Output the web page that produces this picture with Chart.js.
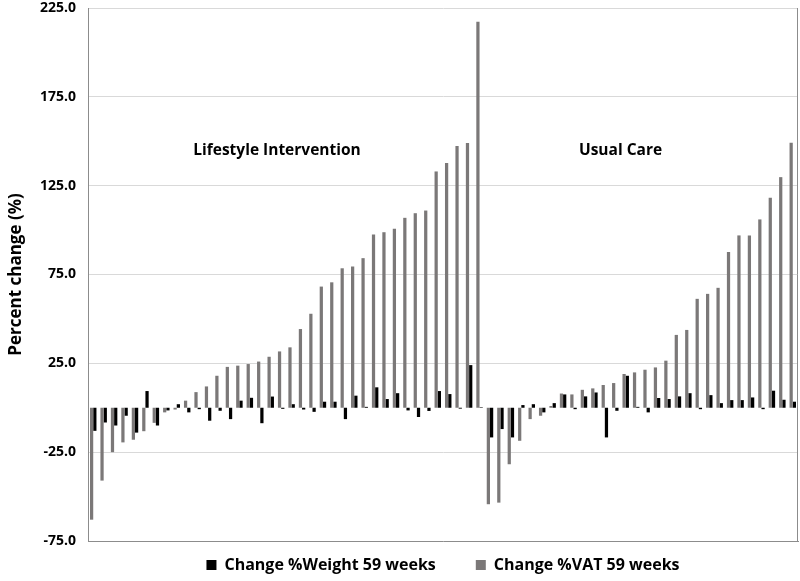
<!DOCTYPE html>
<html>
<head>
<meta charset="utf-8">
<title>Percent change</title>
<script src="https://cdn.jsdelivr.net/npm/chart.js@4.4.1/dist/chart.umd.min.js"></script>
<style>
    html, body { margin: 0; padding: 0; background: #ffffff; }
    #wrap { width: 800px; height: 581px; position: relative; }
</style>
</head>
<body>
<div id="wrap"><canvas id="change-chart"></canvas></div>
<script>
// Participants per group, sorted by VAT change (left: lifestyle, right: usual care)
const lifestyleCount = 38;
const usualCareCount = 30;

// Change %Weight 59 weeks
const weightLifestyle = [
    -13, -8.3, -10, -4.5, -14, 9.4, -10, -1.5, 2, -2.6,
    -0.8, -7.3, -1.7, -6.4, 4, 5.6, -8.7, 6.3, -0.6, 2,
    -1, -2.3, 3.4, 3.4, -6.4, 6.8, 0.5, 11.5, 4.9, 8.2,
    -1.5, -5.2, -1.8, 9.4, 7.7, -0.5, 24, 0.3
];
const weightUsualCare = [
    -16.7, -12, -16.7, 1.5, 2, -2.6, 2.6, 7.5, -0.8, 6.4,
    8.6, -16.7, -1.7, 18, 0.5, -2.6, 5.5, 4.9, 6.4, 8.2,
    -0.8, 7.1, 2.6, 4.3, 4.3, 5.8, -0.8, 9.6, 4.5, 3.4
];

// Change %VAT 59 weeks
const vatLifestyle = [
    -63, -41, -25, -19.5, -18, -13.2, -8.5, -2.6, -1, 4,
    8.8, 12, 18, 23, 23.7, 24.6, 26, 28.7, 31.7, 34,
    44.3, 52.9, 68.2, 70.6, 78.5, 79.5, 84.2, 97.5, 98.8, 100.7,
    106.9, 109.5, 111, 133, 137.7, 147.3, 149, 217.2
];
const vatUsualCare = [
    -54.3, -53.4, -31.8, -18.6, -6.4, -4.5, 1, 8, 7.5, 10.1,
    10.9, 12.8, 13.9, 19, 19.9, 21.4, 22.7, 26.5, 41, 43.8,
    61.3, 64.1, 67.5, 87.6, 97, 97, 106, 118.2, 129.8, 149.2
];

// Y axis ticks
const yTicks = [-75, -25, 25, 75, 125, 175, 225];

// Group captions: [text, category index at centre, y value]
const groupCaptions = [
    ['Lifestyle Intervention', 17.6, 145],
    ['Usual Care', 50.5, 145]
];

const categories = [];
for (let i = 1; i <= lifestyleCount; i++) categories.push('LI ' + i);
for (let i = 1; i <= usualCareCount; i++) categories.push('UC ' + i);

const weightValues = weightLifestyle.concat(weightUsualCare);
const vatValues = vatLifestyle.concat(vatUsualCare);

const FONT = "'Open Sans', sans-serif";

// Draws the group captions and the right edge of the plot area
const captionPlugin = {
    id: 'captions',
    afterDatasetsDraw(chart) {
        const ctx = chart.ctx;
        const x = chart.scales.x;
        const y = chart.scales.y;
        const area = chart.chartArea;
        ctx.save();
        ctx.strokeStyle = '#8c8c8c';
        ctx.lineWidth = 1;
        ctx.beginPath();
        ctx.moveTo(Math.round(area.right) - 0.5, area.top);
        ctx.lineTo(Math.round(area.right) - 0.5, area.bottom);
        ctx.stroke();
        ctx.fillStyle = '#000000';
        ctx.font = 'bold 15.5px ' + FONT;
        ctx.textAlign = 'center';
        ctx.textBaseline = 'middle';
        const step = x.getPixelForValue(1) - x.getPixelForValue(0);
        groupCaptions.forEach(c => {
            const px = x.getPixelForValue(Math.floor(c[1])) + (c[1] % 1) * step;
            ctx.fillText(c[0], px, y.getPixelForValue(c[2]));
        });
        ctx.restore();
    }
};

const ctx = document.getElementById('change-chart');
new Chart(ctx, {
    type: 'bar',
    data: {
        labels: categories,
        datasets: [
            {
                label: 'Change %VAT 59 weeks',
                data: vatValues,
                backgroundColor: '#7b7878',
                borderWidth: 0,
                categoryPercentage: 0.62,
                barPercentage: 1.0
            },
            {
                label: 'Change %Weight 59 weeks',
                data: weightValues,
                backgroundColor: '#000000',
                borderWidth: 0,
                categoryPercentage: 0.62,
                barPercentage: 1.0
            }
        ]
    },
    options: {
        responsive: true,
        maintainAspectRatio: false,
        animation: false,
        layout: { padding: { top: 8, right: 2, bottom: -2, left: 0 } },
        plugins: {
            legend: {
                position: 'bottom',
                reverse: true,
                fullSize: false,
                labels: {
                    boxWidth: 10,
                    boxHeight: 10,
                    padding: 8,
                    color: '#000000',
                    font: { family: FONT, size: 16, weight: 'bold' },
                    generateLabels(chart) {
                        const items = Chart.defaults.plugins.legend.labels.generateLabels(chart);
                        // extra room after the weight entry, as in the original legend
                        items.forEach(it => {
                            if (it.datasetIndex === 1) it.text = it.text + '\u2003\u2003';
                        });
                        return items;
                    }
                }
            },
            tooltip: { enabled: false },
            title: { display: false }
        },
        scales: {
            x: {
                grid: { display: false },
                ticks: { display: false },
                border: { display: true, color: '#8c8c8c' },
                afterFit(scale) {
                    scale.height = 8;
                }
            },
            y: {
                min: -75,
                max: 225,
                afterBuildTicks(scale) {
                    scale.ticks = yTicks.map(v => ({ value: v }));
                },
                afterFit(scale) {
                    scale.width = 88;
                    scale.paddingTop = 0;
                    scale.paddingBottom = 0;
                },
                ticks: {
                    padding: 12,
                    color: '#000000',
                    font: { family: FONT, size: 14, weight: 'bold' },
                    callback: v => Number(v).toFixed(1)
                },
                grid: { color: '#d9d9d9', drawTicks: false },
                border: { display: true, color: '#8c8c8c' },
                title: {
                    display: true,
                    text: 'Percent change (%)',
                    color: '#000000',
                    padding: { top: 6, bottom: 0 },
                    font: { family: FONT, size: 17, weight: 'bold' }
                }
            }
        }
    },
    plugins: [captionPlugin]
});
</script>
</body>
</html>
